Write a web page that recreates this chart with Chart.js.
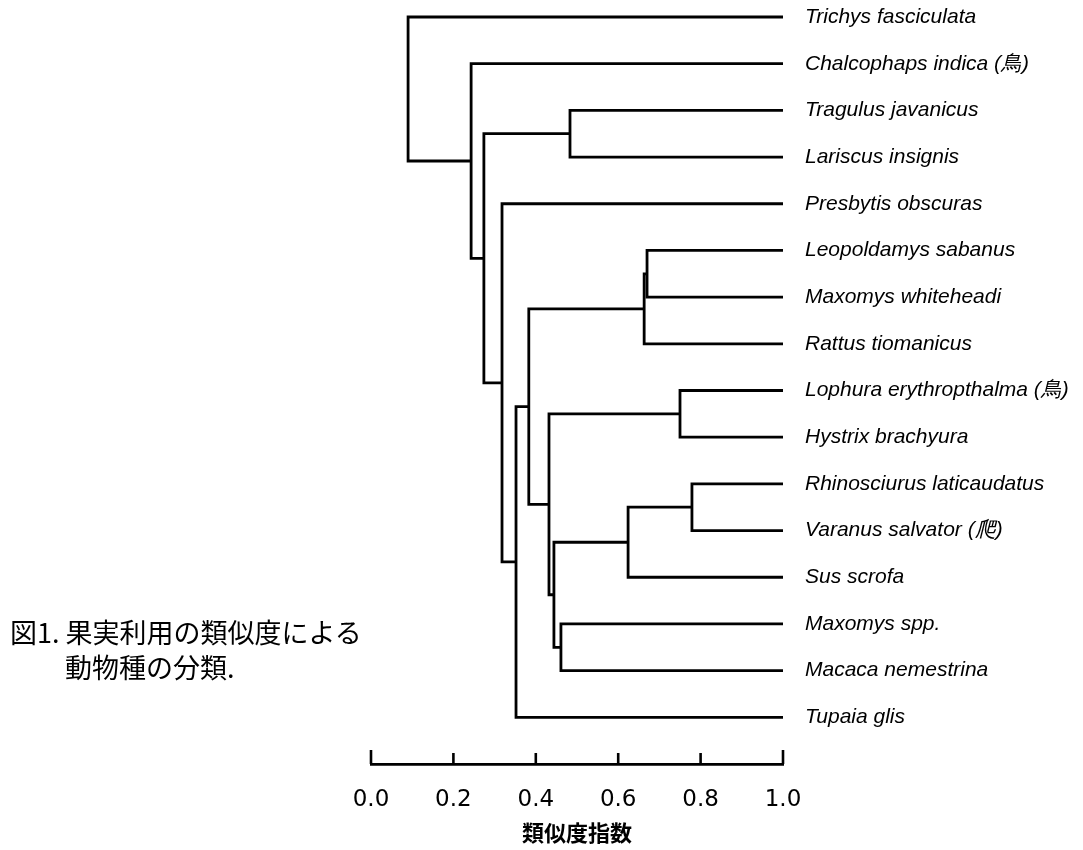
<!DOCTYPE html>
<html>
<head>
<meta charset="utf-8">
<script src="https://cdn.jsdelivr.net/npm/chart.js@4"></script>
<style>
  body { margin: 0; background: #fff; }
  #wrap { position: relative; width: 1083px; height: 850px; }
  .cap { position: absolute; font-family: "Noto Sans CJK JP", sans-serif; font-size: 27px; color: #000; white-space: nowrap; line-height: 1; }
</style>
</head>
<body>
<div id="wrap">
  <canvas id="myChart" width="1083" height="850"></canvas>
  <div class="cap" style="left:10px; top:618px;">図1. 果実利用の類似度による</div>
  <div class="cap" style="left:65px; top:653px;">動物種の分類.</div>
</div>
<script>
// leaves, top to bottom
let species = [
    "Trichys fasciculata",
    "Chalcophaps indica (鳥)",
    "Tragulus javanicus",
    "Lariscus insignis",
    "Presbytis obscuras",
    "Leopoldamys sabanus",
    "Maxomys whiteheadi",
    "Rattus tiomanicus",
    "Lophura erythropthalma (鳥)",
    "Hystrix brachyura",
    "Rhinosciurus laticaudatus",
    "Varanus salvator (爬)",
    "Sus scrofa",
    "Maxomys spp.",
    "Macaca nemestrina",
    "Tupaia glis"
];

// merges: ids < 16 are leaves, id 16 + k is merge k
let mergeA = [10, 8, 5, 18, 16, 2, 13, 20, 17, 19, 25, 4, 21, 1, 0];
let mergeB = [11, 9, 6, 7, 12, 3, 14, 22, 23, 24, 15, 26, 27, 28, 29];
let similarity = [0.779, 0.750, 0.670, 0.663, 0.624, 0.483, 0.461, 0.444, 0.432, 0.383, 0.352, 0.318, 0.274, 0.243, 0.090];

let xTicks = [0, 0.2, 0.4, 0.6, 0.8, 1.0];

// node positions from the merge table
let nodeX = species.map(() => 1.0);
let nodeY = species.map((s, i) => i);
let links = [];
for (let k = 0; k < similarity.length; k++) {
    let a = mergeA[k], b = mergeB[k], h = similarity[k];
    links.push({
        label: 'm' + k,
        data: [
            { x: nodeX[a], y: nodeY[a] },
            { x: h, y: nodeY[a] },
            { x: h, y: nodeY[b] },
            { x: nodeX[b], y: nodeY[b] }
        ],
        showLine: true,
        borderColor: '#000',
        borderWidth: 2.8,
        borderJoinStyle: 'miter',
        borderCapStyle: 'butt',
        pointRadius: 0,
        fill: false,
        tension: 0
    });
    nodeX.push(h);
    nodeY.push((nodeY[a] + nodeY[b]) / 2);
}

// axis ticks pointing up from the axis line
const upTicks = {
    id: 'upTicks',
    afterDraw(chart) {
        let sx = chart.scales.x;
        let ctx = chart.ctx;
        let y0 = chart.chartArea.bottom;
        ctx.save();
        ctx.strokeStyle = '#000';
        ctx.lineWidth = 2.6;
        sx.ticks.forEach((t, i) => {
            let px = sx.getPixelForValue(t.value);
            let len = (i === 0 || i === sx.ticks.length - 1) ? 14 : 11;
            ctx.beginPath();
            ctx.moveTo(px, y0);
            ctx.lineTo(px, y0 - len);
            ctx.stroke();
        });
        ctx.restore();
    }
};

let ctx = document.getElementById('myChart').getContext('2d');
new Chart(ctx, {
    type: 'scatter',
    data: { datasets: links },
    plugins: [upTicks],
    options: {
        responsive: false,
        animation: false,
        layout: { padding: { left: 371, top: 3, right: 0, bottom: 0 } },
        plugins: { legend: { display: false }, tooltip: { enabled: false } },
        scales: {
            x: {
                type: 'linear',
                min: 0, max: 1,
                afterBuildTicks: s => { s.ticks = xTicks.map(v => ({ value: v })); },
                afterFit: s => { s.height = 86; s.paddingLeft = 0; s.paddingRight = 0; },
                grid: { display: false, drawTicks: false },
                border: { display: true, color: '#000', width: 2.8 },
                ticks: {
                    color: '#000',
                    padding: 22,
                    maxRotation: 0,
                    font: { family: 'DejaVu Sans', size: 23 },
                    callback: v => v.toFixed(1)
                },
                title: {
                    display: true,
                    text: '類似度指数',
                    color: '#000',
                    font: { family: '"Noto Sans CJK JP"', size: 22, weight: 'bold' },
                    padding: { top: 0, bottom: 4 }
                }
            },
            y: {
                type: 'linear',
                position: 'right',
                reverse: true,
                min: -0.3, max: 16,
                afterBuildTicks: s => { s.ticks = species.map((n, i) => ({ value: i })); },
                afterFit: s => { s.width = 300; s.paddingTop = 0; s.paddingBottom = 0; },
                grid: { display: false, drawTicks: false },
                border: { display: false },
                ticks: {
                    color: '#000',
                    padding: 22,
                    font: { family: 'Liberation Sans', size: 21, style: 'italic' },
                    callback: v => species[v]
                }
            }
        }
    }
});
</script>
</body>
</html>
